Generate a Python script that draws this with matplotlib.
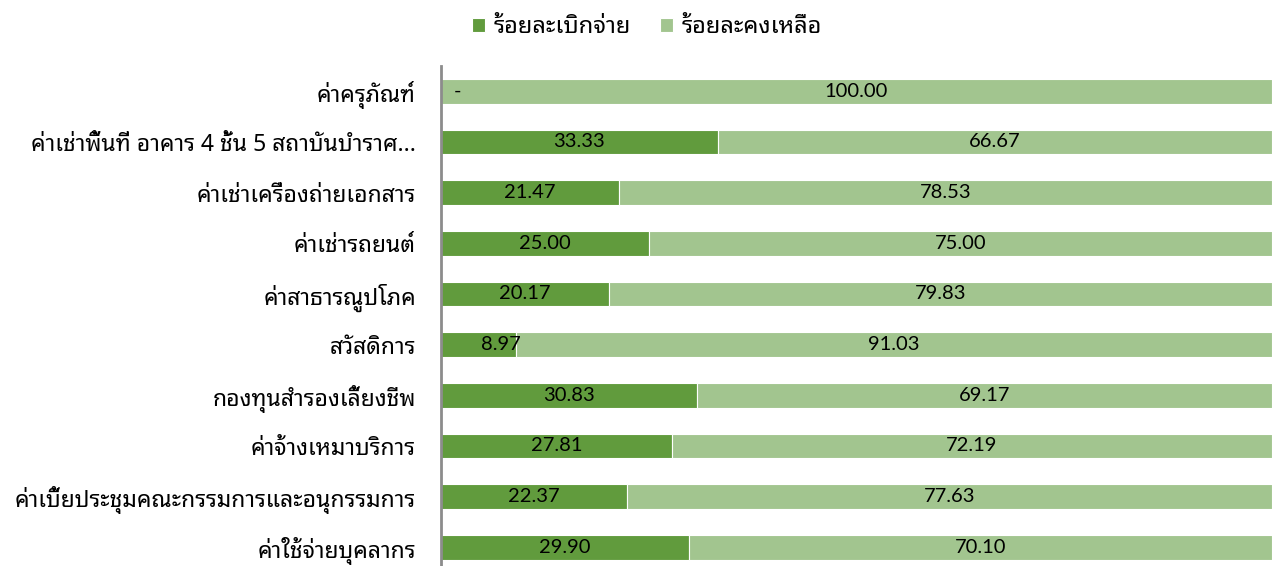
import matplotlib
matplotlib.use("Agg")
import matplotlib.pyplot as plt

categories = [
    "ค่าครุภัณฑ์",
    "ค่าเช่าพื้นที่ อาคาร 4 ชั้น 5 สถาบันบำราศ...",
    "ค่าเช่าเครื่องถ่ายเอกสาร",
    "ค่าเช่ารถยนต์",
    "ค่าสาธารณูปโภค",
    "สวัสดิการ",
    "กองทุนสำรองเลี้ยงชีพ",
    "ค่าจ้างเหมาบริการ",
    "ค่าเบี้ยประชุมคณะกรรมการและอนุกรรมการ",
    "ค่าใช้จ่ายบุคลากร",
]
spent = [0.00, 33.33, 21.47, 25.00, 20.17, 8.97, 30.83, 27.81, 22.37, 29.90]
remaining = [100.00, 66.67, 78.53, 75.00, 79.83, 91.03, 69.17, 72.19, 77.63, 70.10]
series_names = ["ร้อยละเบิกจ่าย", "ร้อยละคงเหลือ"]

thai_fam = ["Noto Sans Thai Looped", "DejaVu Sans"]
num_fam = ["Lato", "DejaVu Sans"]
plt.rcParams["font.family"] = thai_fam

fig = plt.figure(figsize=(12.72, 5.66), dpi=100)
ax = fig.add_axes([441 / 1272, 1 - 572.5 / 566, 1 - 441 / 1272, (572.5 - 66) / 566])

dark = "#619B3D"
light = "#A2C58F"
y = list(range(len(categories)))
ax.barh(y, spent, height=0.487, color=dark, edgecolor="white", linewidth=0.8, label=series_names[0])
ax.barh(y, remaining, left=spent, height=0.487, color=light, edgecolor="white", linewidth=0.8, label=series_names[1])

for i, (s, r) in enumerate(zip(spent, remaining)):
    if s == 0:
        ax.text(2.0, i, "-", ha="center", va="center", fontsize=14.5, family=num_fam)
    else:
        ax.text(max(s / 2, 7.2), i, f"{s:.2f}", ha="center", va="center", fontsize=14.5, family=num_fam)
    ax.text(s + r / 2, i, f"{r:.2f}", ha="center", va="center", fontsize=14.5, family=num_fam)

ax.set_xlim(0, 100)
ax.set_ylim(len(categories) - 0.5, -0.5)
ax.set_yticks(y)
ax.set_yticklabels(categories, fontsize=16.5)
ax.tick_params(axis="y", length=0, pad=18)
ax.set_xticks([])
for sp in ["top", "right", "bottom"]:
    ax.spines[sp].set_visible(False)
ax.spines["left"].set_color("#8C8C8C")
ax.spines["left"].set_linewidth(2)

fig.legend(loc="center", bbox_to_anchor=(647 / 1272, 1 - 27 / 566), ncol=2, frameon=False,
           fontsize=17, handlelength=0.55, handleheight=0.55, columnspacing=1.2, handletextpad=0.4)

fig.savefig("out.png", dpi=100)
